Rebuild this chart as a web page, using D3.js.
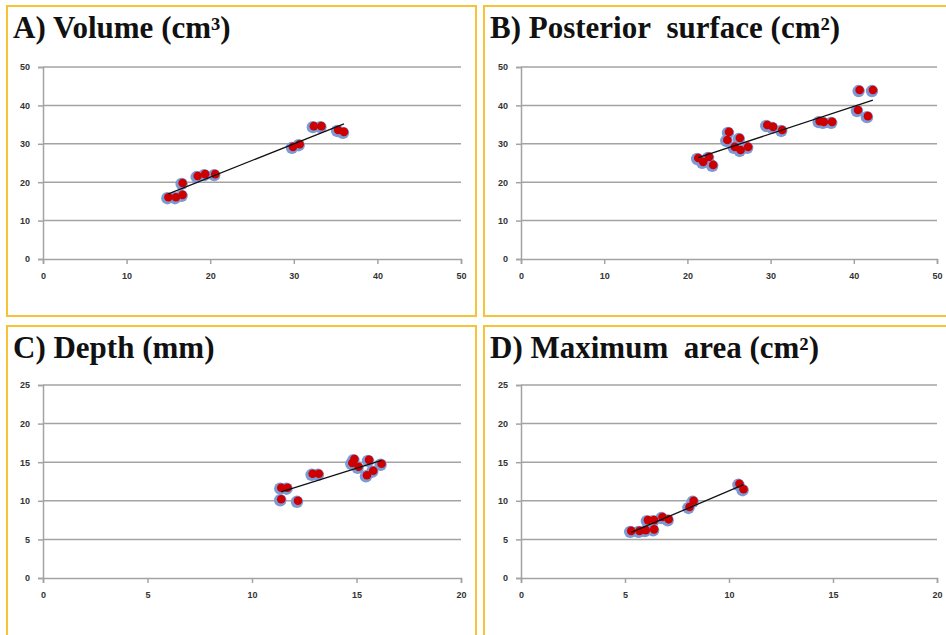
<!DOCTYPE html>
<html>
<head>
<meta charset="utf-8">
<script src="https://cdn.jsdelivr.net/npm/d3@7"></script>
<style>
  body { margin: 0; background: #fff; }
  svg { display: block; }
  .tick text { font-family: "Liberation Sans", sans-serif; font-size: 9px; font-weight: bold; fill: #333; }
</style>
</head>
<body>
<svg id="chart" width="946" height="635"></svg>
<script>
// panel titles
var titles = ["A) Volume (cm³)", "B) Posterior\u00a0 surface (cm²)", "C) Depth (mm)", "D) Maximum\u00a0 area (cm²)"];

// axis ticks per panel
var ticksAB = [0, 10, 20, 30, 40, 50];
var xTicksCD = [0, 5, 10, 15, 20];
var yTicksCD = [0, 5, 10, 15, 20, 25];
var xTicks = [ticksAB, ticksAB, xTicksCD, xTicksCD];
var yTicks = [ticksAB, ticksAB, yTicksCD, yTicksCD];

// A) volume
var volX = [15.0, 15.9, 16.7, 16.7, 18.5, 19.4, 20.6, 29.9, 30.7, 32.4, 33.3, 35.3, 36.0];
var volY = [16.1, 16.1, 16.7, 19.8, 21.6, 22.1, 22.1, 29.2, 29.9, 34.6, 34.6, 33.6, 33.1];

// B) posterior surface
var postX = [21.3, 21.9, 22.6, 23.1, 24.8, 25.0, 25.7, 26.3, 26.4, 27.3, 29.6, 30.3, 31.4, 35.9, 36.4, 37.4, 40.5, 40.7, 41.7, 42.3];
var postY = [26.3, 25.3, 26.6, 24.5, 31.0, 33.1, 29.2, 31.5, 28.4, 29.2, 34.9, 34.4, 33.6, 35.9, 35.7, 35.7, 38.8, 44.0, 37.2, 44.0];

// C) depth
var depX = [11.4, 11.7, 11.4, 12.2, 12.9, 13.2, 14.8, 14.9, 15.1, 15.6, 15.5, 15.8, 16.2];
var depY = [11.7, 11.7, 10.2, 10.0, 13.5, 13.5, 14.9, 15.4, 14.4, 15.3, 13.3, 13.9, 14.8];

// D) maximum area
var areaX = [5.3, 5.7, 6.0, 6.1, 6.4, 6.4, 6.8, 7.1, 8.1, 8.3, 10.5, 10.7];
var areaY = [6.1, 6.1, 6.2, 7.5, 7.5, 6.3, 7.9, 7.6, 9.2, 10.0, 12.2, 11.5];

var seriesX = [volX, postX, depX, areaX];
var seriesY = [volY, postY, depY, areaY];

// layout
var boxes = [
  { x: 7, y: 6, w: 469, h: 310, px: 43, py: 67, pw: 418, ph: 192 },
  { x: 484, y: 6, w: 470, h: 310, px: 521, py: 67, pw: 416, ph: 192 },
  { x: 7, y: 326, w: 469, h: 320, px: 43, py: 385, pw: 418, ph: 193 },
  { x: 484, y: 326, w: 470, h: 320, px: 521, py: 385, pw: 416, ph: 193 }
];

var svg = d3.select("#chart");

function fit(xs, ys) {
  var mx = d3.mean(xs), my = d3.mean(ys);
  var sxy = d3.sum(xs, function (d, i) { return (d - mx) * (ys[i] - my); });
  var sxx = d3.sum(xs, function (d) { return (d - mx) * (d - mx); });
  var b = sxy / sxx;
  return { a: my - b * mx, b: b };
}

boxes.forEach(function (bx, k) {
  var g = svg.append("g");

  g.append("rect")
    .attr("x", bx.x).attr("y", bx.y)
    .attr("width", bx.w).attr("height", bx.h)
    .attr("fill", "none")
    .attr("stroke", "#f7c236")
    .attr("stroke-width", 2);

  g.append("text")
    .attr("x", bx.x + 6).attr("y", bx.y + 32)
    .attr("font-family", "Liberation Serif, Times New Roman, serif")
    .attr("font-weight", "bold")
    .attr("font-size", 31)
    .attr("fill", "#111")
    .text(titles[k]);

  var xt = xTicks[k], yt = yTicks[k];
  var x = d3.scaleLinear().domain([0, d3.max(xt)]).range([bx.px, bx.px + bx.pw]);
  var y = d3.scaleLinear().domain([0, d3.max(yt)]).range([bx.py + bx.ph, bx.py]);

  // gridlines
  g.append("g").selectAll("line")
    .data(yt.slice(1))
    .join("line")
    .attr("x1", bx.px).attr("x2", bx.px + bx.pw)
    .attr("y1", function (d) { return y(d); })
    .attr("y2", function (d) { return y(d); })
    .attr("stroke", "#a3a3a3")
    .attr("stroke-width", 1.5);

  var yAxis = d3.axisLeft(y).tickValues(yt).tickSize(5).tickPadding(8);
  var xAxis = d3.axisBottom(x).tickValues(xt).tickSize(5).tickPadding(9);

  g.append("g")
    .attr("transform", "translate(" + bx.px + ",0)")
    .call(yAxis)
    .call(function (s) { s.selectAll("line, path").attr("stroke", "#a3a3a3").attr("stroke-width", 1.5); });

  g.append("g")
    .attr("transform", "translate(0," + (bx.py + bx.ph) + ")")
    .call(xAxis)
    .call(function (s) { s.selectAll("line, path").attr("stroke", "#a3a3a3").attr("stroke-width", 1.5); });

  var xs = seriesX[k], ys = seriesY[k];
  var pts = xs.map(function (d, i) { return [d, ys[i]]; });

  var marks = g.append("g");
  marks.selectAll("circle.halo")
    .data(pts)
    .join("circle")
    .attr("class", "halo")
    .attr("cx", function (d) { return x(d[0]) - 1; })
    .attr("cy", function (d) { return y(d[1]) + 1; })
    .attr("r", 6.2)
    .attr("fill", "#7c9ad6");
  marks.selectAll("circle.dot")
    .data(pts)
    .join("circle")
    .attr("class", "dot")
    .attr("cx", function (d) { return x(d[0]); })
    .attr("cy", function (d) { return y(d[1]); })
    .attr("r", 4.3)
    .attr("fill", "#cc0000");

  // linear trend
  var f = fit(xs, ys);
  var ext = d3.extent(xs);
  g.append("line")
    .attr("x1", x(ext[0])).attr("y1", y(f.a + f.b * ext[0]))
    .attr("x2", x(ext[1])).attr("y2", y(f.a + f.b * ext[1]))
    .attr("stroke", "#111")
    .attr("stroke-width", 1.3);
});
</script>
</body>
</html>
